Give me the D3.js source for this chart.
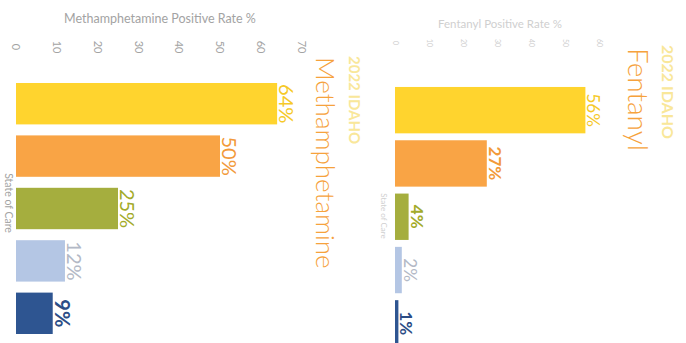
<!DOCTYPE html>
<html>
<head>
<meta charset="utf-8">
<script src="https://cdn.jsdelivr.net/npm/d3@7/dist/d3.min.js"></script>
<style>
  html, body { margin: 0; padding: 0; background: #fff; }
  svg { display: block; font-family: Lato, "Open Sans", sans-serif; }
</style>
</head>
<body>
<svg id="chart" width="686" height="343"></svg>
<script>
// ---- data ----
const categories = ["Group 1", "Group 2", "Group 3", "Group 4", "Group 5"];
const methValues = [64, 50, 25, 12, 9];
const fentValues = [56, 27, 4, 2, 1];
const methLabels = ["64%", "50%", "25%", "12%", "9%"];
const fentLabels = ["56%", "27%", "4%", "2%", "1%"];
const methTicks = [0, 10, 20, 30, 40, 50, 60, 70];
const fentTicks = [0, 10, 20, 30, 40, 50, 60];

const barColors = ["#ffd42e", "#f9a445", "#a5ae3e", "#b4c6e4", "#2e5591"];
const labelColors = ["#f6c928", "#f29a3a", "#a3ab2a", "#b3b9c6", "#2c4d86"];
const labelWeights = [400, 400, 400, 400, 700];
const fentLabelWeights = [400, 700, 700, 400, 700];

const svg = d3.select("#chart");

function panel(opts) {
  const g = svg.append("g");
  const x = d3.scaleLinear().domain(opts.domain).range(opts.xRange);
  const y = d3.scaleBand().domain(categories).range(opts.yRange)
    .paddingInner(opts.padIn).paddingOuter(opts.padOut);

  // axis (top, rotated tick labels)
  const ax = g.append("g").attr("transform", `translate(0,${opts.tickY})`)
    .call(d3.axisTop(x).tickValues(opts.ticks).tickSize(0).tickPadding(0));
  ax.select(".domain").remove();
  ax.selectAll("text")
    .attr("transform", "rotate(90)")
    .attr("x", 0).attr("y", 0).attr("dy", "0.35em")
    .attr("text-anchor", "middle")
    .attr("fill", opts.tickColor)
    .style("font-size", opts.tickSize + "px")
    .style("font-family", "Lato, sans-serif");
  ax.selectAll(".tick").each(function(d) {
    d3.select(this).attr("transform", `translate(${x(d)},0)`);
  });

  // axis title
  g.append("text")
    .attr("x", opts.titleX).attr("y", opts.titleY)
    .attr("text-anchor", "middle")
    .attr("fill", opts.tickColor)
    .style("font-size", opts.titleSize + "px")
    .text(opts.axisTitle);

  // "State of Care"
  g.append("text")
    .attr("transform", `translate(${opts.socX},${opts.socY}) rotate(90)`)
    .attr("text-anchor", "middle")
    .attr("fill", opts.tickColor)
    .style("font-size", opts.socSize + "px")
    .text("State of Care");

  // bars
  g.selectAll("rect.bar").data(opts.values).join("rect")
    .attr("class", "bar")
    .attr("x", x(0))
    .attr("y", (d, i) => y(categories[i]))
    .attr("width", d => x(d) - x(0))
    .attr("height", y.bandwidth())
    .attr("fill", (d, i) => barColors[i]);

  // value labels
  g.selectAll("text.val").data(opts.values).join("text")
    .attr("class", "val")
    .attr("transform", (d, i) => `translate(${x(d) + 2},${y(categories[i]) + y.bandwidth() / 2}) rotate(90)`)
    .attr("text-anchor", "middle")
    .attr("fill", (d, i) => labelColors[i])
    .style("font-size", opts.valSize + "px")
    .style("font-weight", (d, i) => opts.weights[i])
    .text((d, i) => opts.labels[i]);

  // big titles
  g.append("text")
    .attr("transform", `translate(${opts.yearX},${opts.yearY}) rotate(90)`)
    .attr("fill", "#f9e79a")
    .style("font-size", opts.yearSize + "px")
    .style("font-weight", 700)
    .text("2022 IDAHO");
  g.append("text")
    .attr("transform", `translate(${opts.drugX},${opts.drugY}) rotate(90)`)
    .attr("fill", "#f6a23c")
    .style("font-size", opts.drugSize + "px")
    .style("font-weight", 300)
    .text(opts.drug);
}

panel({
  domain: [0, 70], xRange: [16, 16 + 70 * 4.08],
  yRange: [77.5, 339.5], padIn: 0.21, padOut: 0.105,
  ticks: methTicks, tickY: 47, tickColor: "#a3a3a3", tickSize: 11,
  axisTitle: "Methamphetamine Positive Rate %", titleX: 160, titleY: 23, titleSize: 12.5,
  socX: 5, socY: 203, socSize: 10.5,
  values: methValues, labels: methLabels, weights: labelWeights, valSize: 20,
  yearX: 349, yearY: 56, yearSize: 15,
  drug: "Methamphetamine", drugX: 316, drugY: 57, drugSize: 26
});

panel({
  domain: [0, 60], xRange: [395, 395 + 60 * 3.4],
  yRange: [83.5, 350], padIn: 0.13, padOut: 0.065,
  ticks: fentTicks, tickY: 43, tickColor: "#cfcfcf", tickSize: 7,
  axisTitle: "Fentanyl Positive Rate %", titleX: 500, titleY: 28, titleSize: 11.5,
  socX: 381, socY: 216, socSize: 8,
  values: fentValues, labels: fentLabels, weights: fentLabelWeights, valSize: 17,
  yearX: 662, yearY: 45, yearSize: 16,
  drug: "Fentanyl", drugX: 628, drugY: 48, drugSize: 28
});
</script>
</body>
</html>
